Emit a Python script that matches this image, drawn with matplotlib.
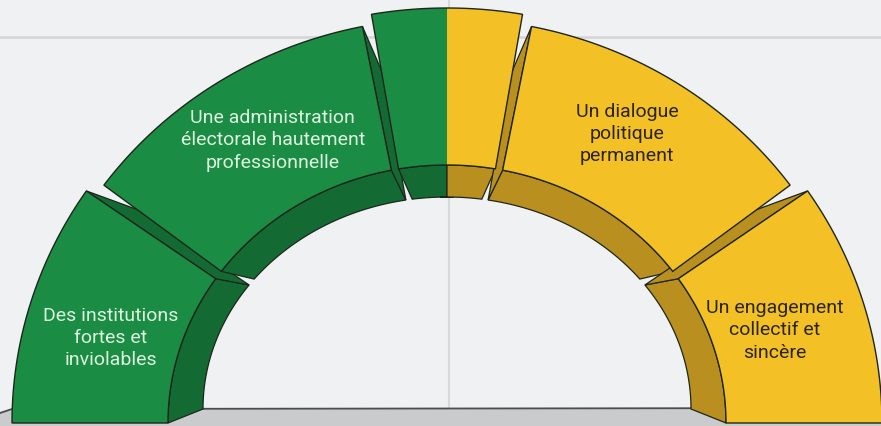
import numpy as np
import matplotlib.pyplot as plt
from matplotlib.patches import Polygon

# arch blocks, left (180 deg) to right (0 deg)
labels = ["Des institutions\nfortes et\ninviolables",
          "Une administration\nélectorale hautement\nprofessionnelle",
          "",
          "Un dialogue\npolitique\npermanent",
          "Un engagement\ncollectif et\nsincère"]
spans = [34, 42.5, 20, 42.5, 34]     # angular size of each block (deg)
gaps = [2, 1.5, 1.5, 2]              # joints between blocks (deg)
sides = ["g", "g", "k", "y", "y"]    # green / keystone / yellow

# layout tweaks (not data)
out_scale = [1.0, 0.975, 1.0, 0.975, 1.0]
label_shift = [2.2, -2.3, 0, 2.0, -0.5]
label_r = [0.80, 0.79, 0, 0.81, 0.785]

GREEN, GREEN_D = "#1b8c43", "#136b33"
YELLOW, YELLOW_D = "#f3c026", "#b98f1f"
EDGE = "#1e261c"
TXT = {"g": "#dcf3e0", "y": "#2a2412"}

# geometry in pixel coords
CX, CY = 447, 423
R_OUT, R_IN = (435, 415), (279, 258)
BCY = 409
B_OUT, B_IN = (380, 340), (244, 212)


def pt(cx, cy, r, t):
    t = np.radians(t)
    return np.column_stack([cx + r[0] * np.cos(t), cy - r[1] * np.sin(t)])


def back(t):
    t = np.asarray(t, dtype=float)
    d = 1.8 * np.minimum(1, np.sin(np.radians(t)) * 2.5)
    return t - np.sign(t - 90) * d


def arc(t0, t1, n=60):
    return np.linspace(t0, t1, n)


fig = plt.figure(figsize=(8.81, 4.26), dpi=100)
ax = fig.add_axes([0, 0, 1, 1])
ax.set_xlim(0, 881)
ax.set_ylim(426, 0)
ax.axis("off")
fig.patch.set_facecolor("#eff1f2")

# background guide lines and ground
ax.plot([0, 881], [37, 37], color="#d3d5d7", lw=1.8, zorder=1)
ax.plot([449, 449], [0, 408], color="#d6d8da", lw=1.5, zorder=1)
ax.add_patch(Polygon([[0, 413], [12, 409], [881, 408], [881, 426], [0, 426]],
                     closed=True, facecolor="#c9cbcd", edgecolor="none", zorder=2))
ax.plot([0, 12, 881], [413, 409, 408], color="#4b4d4f", lw=1.3, zorder=2)

# block angle ranges
ranges = []
a = 180.0
for i, s in enumerate(spans):
    ranges.append((a, a - s))
    if i < len(gaps):
        a = a - s - gaps[i]

for i, (a0, a1) in enumerate(ranges):
    kind = sides[i]
    # intrados (inner dark face)
    if kind == "k":
        parts = [(a0, 90, GREEN_D), (90, a1, YELLOW_D)]
    else:
        parts = [(a0, a1, GREEN_D if kind == "g" else YELLOW_D)]
    for p0, p1, col in parts:
        t = arc(p0, p1)
        poly = np.vstack([pt(CX, CY, R_IN, t), pt(CX, BCY, B_IN, back(t[::-1]))])
        ax.add_patch(Polygon(poly, closed=True, facecolor=col, edgecolor=EDGE,
                             lw=0.9, zorder=3))
    # side face toward the keystone
    if kind != "k":
        te = a1 if kind == "g" else a0
        col = GREEN_D if kind == "g" else YELLOW_D
        tb = back(te)
        ro = (R_OUT[0] * out_scale[i], R_OUT[1] * out_scale[i])
        poly = np.vstack([pt(CX, CY, ro, [te]), pt(CX, CY, R_IN, [te]),
                          pt(CX, BCY, B_IN, [tb]), pt(CX, BCY, B_OUT, [tb])])
        ax.add_patch(Polygon(poly, closed=True, facecolor=col, edgecolor=EDGE,
                             lw=0.9, zorder=3))

for i, (a0, a1) in enumerate(ranges):
    kind = sides[i]
    t = arc(a0, a1)
    ro = (R_OUT[0] * out_scale[i], R_OUT[1] * out_scale[i])
    front = np.vstack([pt(CX, CY, ro, t), pt(CX, CY, R_IN, t[::-1])])
    if kind == "k":
        for p0, p1, col in [(a0, 90, GREEN), (90, a1, YELLOW)]:
            tt = arc(p0, p1)
            half = np.vstack([pt(CX, CY, ro, tt), pt(CX, CY, R_IN, tt[::-1])])
            ax.add_patch(Polygon(half, closed=True, facecolor=col,
                                 edgecolor="none", zorder=4))
        ax.add_patch(Polygon(front, closed=True, facecolor="none",
                             edgecolor=EDGE, lw=1.0, zorder=4.5))
    else:
        col = GREEN if kind == "g" else YELLOW
        ax.add_patch(Polygon(front, closed=True, facecolor=col,
                             edgecolor=EDGE, lw=1.0, zorder=4))
        mid = (a0 + a1) / 2 + label_shift[i]
        xy = pt(CX, CY, (R_OUT[0] * label_r[i], R_OUT[1] * label_r[i]), [mid])[0]
        ax.text(xy[0], xy[1], labels[i], ha="center", va="center",
                fontsize=14, family="Roboto", color=TXT[kind],
                linespacing=1.3, zorder=5)

fig.savefig("out.png", dpi=100, facecolor=fig.get_facecolor())
